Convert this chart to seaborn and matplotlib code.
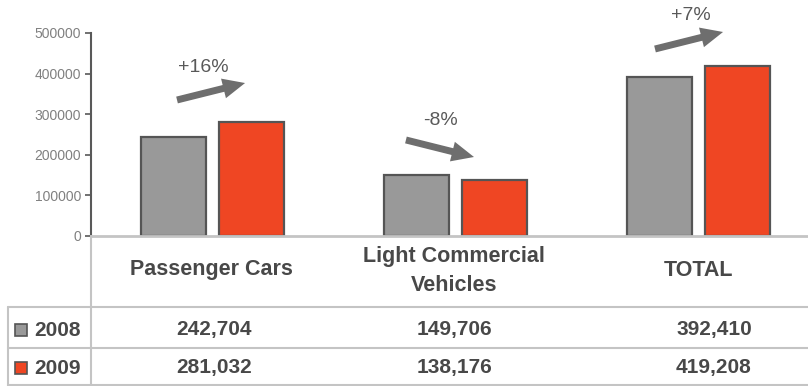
import matplotlib
matplotlib.use("Agg")
import matplotlib.pyplot as plt
from matplotlib.patches import FancyArrowPatch, Rectangle
from matplotlib.lines import Line2D
import seaborn as sns
import pandas as pd

# Registrations by segment and year
categories = ["Passenger Cars", "Light Commercial\nVehicles", "TOTAL"]
years = ["2008", "2009"]
values_2008 = [242704, 149706, 392410]
values_2009 = [281032, 138176, 419208]
change_labels = ["+16%", "-8%", "+7%"]
y_ticks = [0, 100000, 200000, 300000, 400000, 500000]

colors = {"2008": "#999999", "2009": "#EF4623"}
text_dark = "#484848"
grid_light = "#c4c4c4"

df = pd.DataFrame({
    "segment": categories * 2,
    "year": [years[0]] * 3 + [years[1]] * 3,
    "units": values_2008 + values_2009,
})

sns.set_theme(style="white")
plt.rcParams["font.family"] = ["Liberation Sans", "DejaVu Sans"]

W, H = 808, 386
fig = plt.figure(figsize=(W / 100, H / 100), dpi=100)
fig.patch.set_facecolor("white")


def fx(px):
    return px / W


def fy(py):
    return 1 - py / H


ax_left, ax_right, ax_top, ax_bottom = 91, 820, 33, 236
ax = fig.add_axes([fx(ax_left), fy(ax_bottom),
                   fx(ax_right - ax_left), (ax_bottom - ax_top) / H])

sns.barplot(data=df, x="segment", y="units", hue="year", palette=colors,
            width=0.634, gap=0.156, edgecolor="#555555", linewidth=1.6,
            saturation=1, legend=False, ax=ax)

ax.set_xlim(-0.5, 2.5)
ax.set_ylim(0, 500000)
ax.set_yticks(y_ticks)
ax.set_yticklabels([str(v) for v in y_ticks], fontsize=10, color="#808080")
ax.set_xticks([])
ax.set_xlabel("")
ax.set_ylabel("")
ax.tick_params(axis="y", which="both", left=True, length=4, width=1.2,
               color="#595959", pad=3)
for side in ["top", "right"]:
    ax.spines[side].set_visible(False)
ax.spines["left"].set_color("#595959")
ax.spines["left"].set_linewidth(1.5)
ax.spines["bottom"].set_color(grid_light)
ax.spines["bottom"].set_linewidth(2)
ax.patch.set_alpha(0)

# Change arrows (in data coordinates) and their percentage labels
arrows = [((-0.146, 335000), (0.134, 376800)),
          ((0.796, 236500), (1.076, 194600)),
          ((1.821, 460600), (2.101, 502500))]
label_pos = [(-0.039, 413800), (0.94, 285700), (1.969, 541900)]
for (tail, tip), lab, pos in zip(arrows, change_labels, label_pos):
    arr = FancyArrowPatch(tail, tip,
                          arrowstyle="simple,head_length=1.6,head_width=1.45,tail_width=0.5",
                          mutation_scale=10, color="#6e6e6e", lw=0,
                          shrinkA=0, shrinkB=0, clip_on=False)
    ax.add_patch(arr)
    ax.text(pos[0], pos[1], lab, ha="center", va="center", fontsize=14,
            color="#595959", clip_on=False)

# Data table below the chart
lines = [
    ((ax_left, ax_left), (ax_bottom, 386)),
    ((8, 808), (307, 307)),
    ((8, 808), (348, 348)),
    ((8, 808), (385, 385)),
    ((8, 8), (307, 386)),
]
for xs, ys in lines:
    fig.add_artist(Line2D([fx(x) for x in xs], [fy(y) for y in ys],
                          color=grid_light, lw=1.5))

cat_x = [211, 454, 698]
cat_y = [269, 271, 270]
for cx, cy, name in zip(cat_x, cat_y, categories):
    fig.text(fx(cx), fy(cy), name, ha="center", va="center", fontsize=15.5,
             fontweight="bold", color=text_dark, linespacing=1.45)

val_x = [214, 454, 714]
row_y = [330, 368]
for ry, yr, vals in zip(row_y, years, [values_2008, values_2009]):
    fig.add_artist(Rectangle((fx(15), fy(ry + 6)), 12 / W, 12 / H,
                             transform=fig.transFigure, facecolor=colors[yr],
                             edgecolor="#555555", lw=1.2))
    fig.text(fx(34), fy(ry), yr, ha="left", va="center", fontsize=15,
             fontweight="bold", color=text_dark)
    for vx, v in zip(val_x, vals):
        fig.text(fx(vx), fy(ry), f"{v:,}", ha="center", va="center",
                 fontsize=15, fontweight="bold", color=text_dark)

fig.savefig("out.png", dpi=100, facecolor="white")
